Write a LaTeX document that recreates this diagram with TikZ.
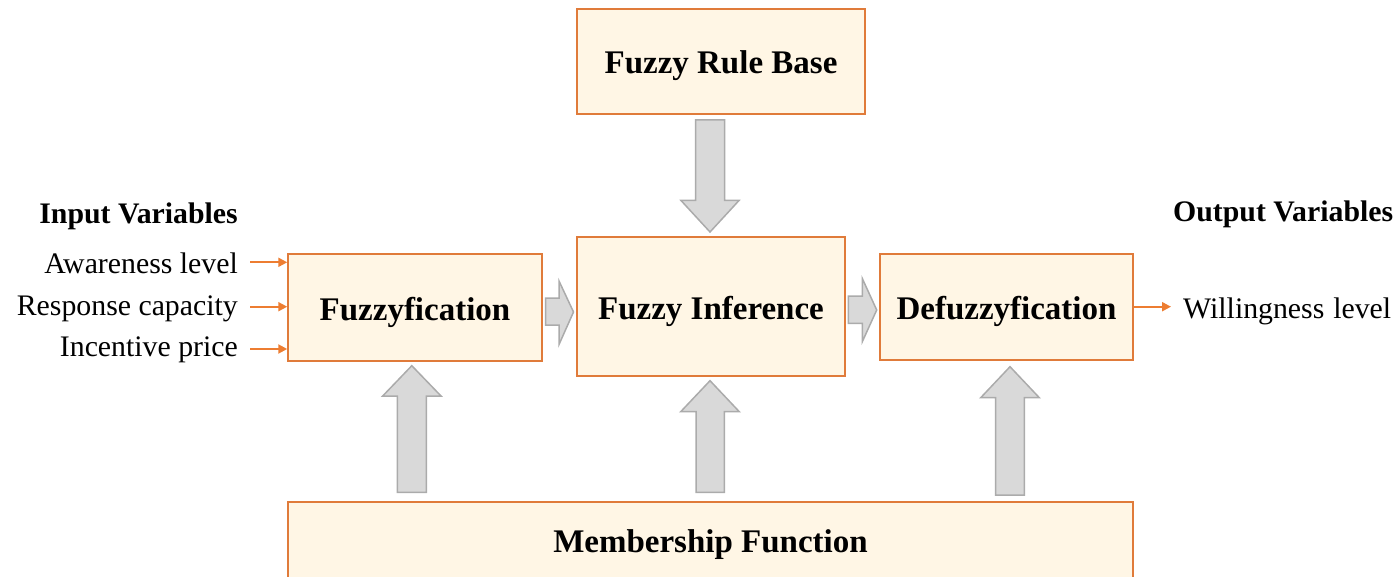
\documentclass[tikz,border=0pt]{standalone}
\usepackage{fontspec}
\setmainfont{Liberation Serif}
\usetikzlibrary{arrows.meta}

\definecolor{boxfill}{HTML}{FFF6E5}
\definecolor{boxline}{HTML}{E07B3A}
\definecolor{flow}{HTML}{ED7D31}
\definecolor{blockfill}{HTML}{D9D9D9}
\definecolor{blockline}{HTML}{ABABAB}

\begin{document}
\begin{tikzpicture}[x=1pt,y=-1pt,
  stage/.style={draw=boxline, fill=boxfill, line width=1.5pt,
    font=\fontsize{33}{36}\selectfont\bfseries, inner sep=0pt,
    text height=25pt, text depth=0pt},
  vartext/.style={font=\fontsize{29.8}{32}\selectfont, inner sep=0pt},
  heading/.style={font=\fontsize{29.8}{32}\selectfont\bfseries, inner sep=0pt},
  flowarrow/.style={draw=flow, line width=2pt, -{Triangle[length=9pt,width=9pt]}},
  blockarrow/.style={fill=blockfill, draw=blockline, line width=1.5pt, line join=miter}
]
\useasboundingbox (0,0) rectangle (1396,577);
\clip (0,0) rectangle (1396,577);

% processing stages
\node[stage, minimum width=288pt, minimum height=105pt] (rules)  at (721,61.5)   {Fuzzy Rule Base};
\node[stage, minimum width=254pt, minimum height=107pt] (fuzz)   at (415,307.5)  {Fuzzyfication};
\node[stage, minimum width=268pt, minimum height=139pt] (infer)  at (711,306.5)  {Fuzzy Inference};
\node[stage, minimum width=253pt, minimum height=106pt] (defuzz) at (1006.5,307) {Defuzzyfication};
% the bottom stage runs off the lower edge of the page
\node[stage, minimum width=845pt, minimum height=84pt, text depth=8pt]
  (member) at (710.5,544) {Membership Function};

% inputs
\node[heading, anchor=base east] (inhead) at (238,224) {Input Variables};
\node[vartext, anchor=base east] (v1) at (238,273.3) {Awareness level};
\node[vartext, anchor=base east] (v2) at (238,315)   {Response capacity};
\node[vartext, anchor=base east] (v3) at (238,356.7) {Incentive price};

% output
\node[heading, anchor=base west] (outhead) at (1173,222) {Output Variables};
\node[vartext, anchor=base west] (w1) at (1183,318.3) {Willingness\hspace{0.3em}level};

% input / output connectors
\coordinate (i1) at (250,262.3);
\coordinate (i2) at (250,306.7);
\coordinate (i3) at (250,349);
\coordinate (o1) at (1171,306.7);
\draw[flowarrow] (i1) -- (fuzz.west |- i1);
\draw[flowarrow] (i2) -- (fuzz.west |- i2);
\draw[flowarrow] (i3) -- (fuzz.west |- i3);
\draw[flowarrow] (defuzz.east |- o1) -- (o1);

% rule base feeds the inference engine
\draw[blockarrow] (695.5,120) -- (724.5,120) -- (724.5,200.5) -- (739,200.5)
  -- (710,232) -- (681,200.5) -- (695.5,200.5) -- cycle;

% flow between stages
\draw[blockarrow] (545.5,298) -- (559,298) -- (559,281) -- (573.5,312)
  -- (559,344.5) -- (559,325) -- (545.5,325) -- cycle;
\draw[blockarrow] (848.3,296) -- (862.3,296) -- (862.3,278.5) -- (876.7,310)
  -- (862.3,341.7) -- (862.3,323.3) -- (848.3,323.3) -- cycle;

% membership functions feed each stage
\draw[blockarrow] (397.3,492.3) -- (397.3,396) -- (382.7,396) -- (411.8,365.7)
  -- (441,396) -- (426.3,396) -- (426.3,492.3) -- cycle;
\draw[blockarrow] (696,492.3) -- (696,411.7) -- (680.7,411.7) -- (710,380.7)
  -- (739.3,411.7) -- (724.3,411.7) -- (724.3,492.3) -- cycle;
\draw[blockarrow] (995.7,495) -- (995.7,397.7) -- (980.7,397.7) -- (1010,366.7)
  -- (1039.3,397.7) -- (1024.3,397.7) -- (1024.3,495) -- cycle;
\end{tikzpicture}
\end{document}
